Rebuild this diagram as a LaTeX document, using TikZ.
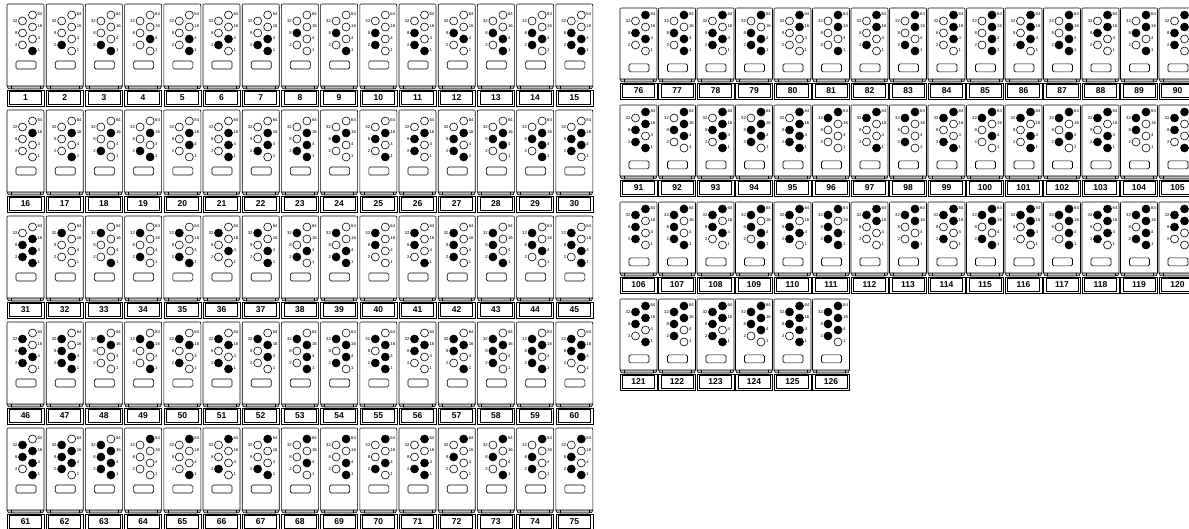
\documentclass[tikz,border=0pt]{standalone}
\usepackage{fontspec}
\setsansfont{Liberation Sans}
\usetikzlibrary{positioning}

\tikzset{
  casing/.style={draw=black, fill=white, line width=0.6pt},
  skirt/.style={draw=black, fill=black!25, line width=0.6pt},
  bitdot/.style={circle, draw=black, line width=0.6pt, minimum size=8pt, inner sep=0pt},
  bitnum/.style={font=\sffamily\fontsize{4.3}{4.3}\selectfont, inner sep=0pt},
  cardnum/.style={font=\sffamily\bfseries\fontsize{8.5}{9}\selectfont, inner sep=0pt},
}

% one remote: x, y of top left corner, number, shift of the dots, shift of the lower part
\newcommand{\remotecard}[5]{%
  \begin{scope}[shift={(#1,#2)}]
    \draw[casing] (0,82+#5) -- (0,2) .. controls (0,0) .. (2,0) -- (35,0) .. controls (37,0) .. (37,2) -- (37,82+#5);
    \begin{scope}[yshift=-#5pt]
      \draw[skirt] (0,82) .. controls (1,85) .. (4,85) -- (33,85) .. controls (36,85) .. (37,82) -- cycle;
      \draw[line width=0.5pt] (4,82) -- (4,85) (33,82) -- (33,85);
      \draw[casing] (0,86) rectangle (37,102);
      \draw[line width=0.5pt] (2.5,87.5) rectangle (34.5,100.5);
      \node[cardnum] (c#3) at (18.5,94) {#3};
    \end{scope}
    \draw[casing, rounded corners=1.5pt] (9,57+#5/10) rectangle (29,65+#5/10);
    \foreach \b/\cx/\k in {64/25.5/0,32/15.5/1,16/25.5/2,8/15.5/3,4/25.5/4,2/15.5/5,1/25.5/6} {
      \pgfmathtruncatemacro\on{mod(div(#3,\b),2)}
      \ifnum\on=1 \def\dotcol{black}\else\def\dotcol{white}\fi
      \node[bitdot, fill=\dotcol] (d#3-\b) at (\cx,11+#4+6*\k) {};
      \ifdim\cx pt>20pt
        \node[bitnum, right=0.6pt of d#3-\b, yshift=1pt] (t#3-\b) {\b};
      \else
        \node[bitnum, left=0.6pt of d#3-\b] (t#3-\b) {\b};
      \fi
    }
  \end{scope}}

\begin{document}
\begin{tikzpicture}[x=1pt,y=-1pt]
  \useasboundingbox (0,0) rectangle (1189,529);

  % left table, 1 to 75
  \foreach \n in {1,...,75} {
    \pgfmathsetmacro\px{7+39.2*mod(\n-1,15)}
    \pgfmathsetmacro\py{4+106*div(\n-1,15)}
    \remotecard{\px}{\py}{\n}{0}{0}
  }

  % right table, 76 to 126
  \foreach \n in {76,...,126} {
    \pgfmathsetmacro\px{620+38.5*mod(\n-76,15)}
    \pgfmathsetmacro\py{8+97*div(\n-76,15)}
    \remotecard{\px}{\py}{\n}{-4}{-11}
  }
\end{tikzpicture}
\end{document}
